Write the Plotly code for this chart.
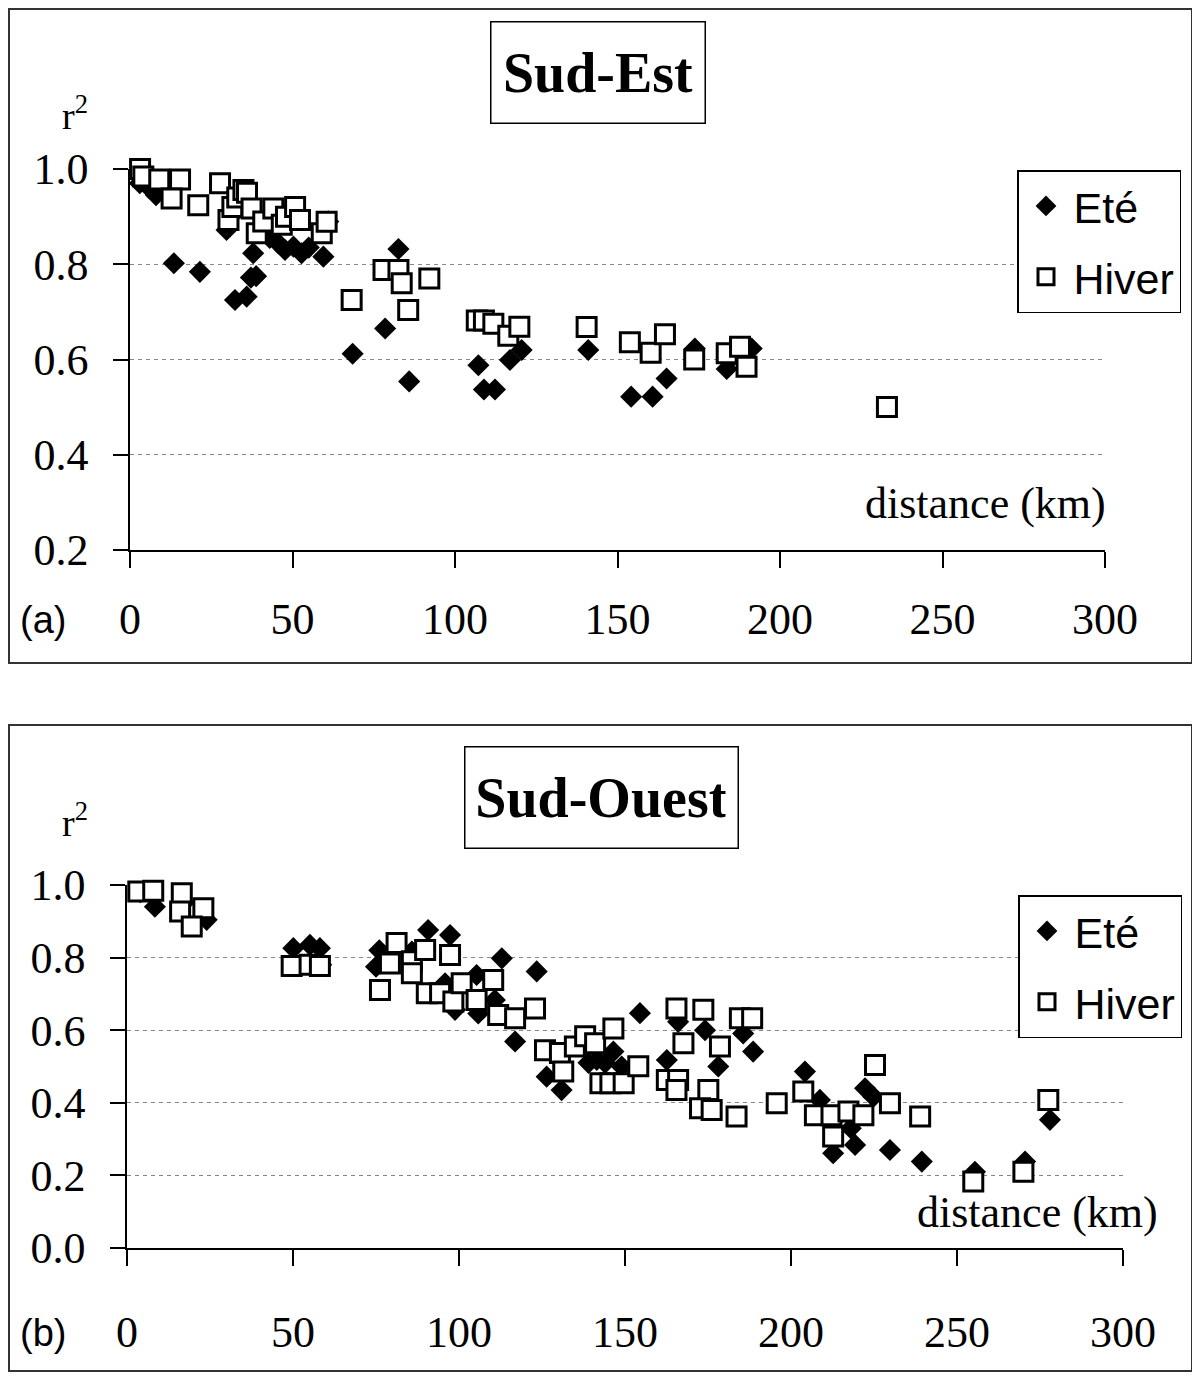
import plotly.graph_objects as go

# Sud-Est (a)
se_ete_x = [3, 6, 8, 13.5, 21.5, 29.7, 31, 32.3, 35.9, 37.2, 38.8, 37.9, 43, 45.6, 47.7,
            50.3, 52.8, 55, 59.5, 61, 68.5, 78.5, 82.6, 85.9, 107.2, 108.9, 112.3, 116.9,
            120.5, 141, 154.2, 160.8, 165.1, 173.8, 183.6, 184.5, 191.3]
se_ete_y = [0.97, 0.96, 0.945, 0.802, 0.784, 0.872, 0.9, 0.725, 0.732, 0.772, 0.775, 0.823, 0.855, 0.844, 0.83,
            0.837, 0.823, 0.835, 0.816, 0.89, 0.612, 0.665, 0.832, 0.554, 0.588, 0.537, 0.537, 0.599,
            0.62, 0.62, 0.522, 0.522, 0.56, 0.623, 0.58, 0.6, 0.623]

se_hiver_x = [3.1, 4.1, 9.0, 15.4, 12.8, 21.0, 27.7, 30.3, 31.5, 33, 34.9, 36, 37.4, 39, 41,
              44.1, 46.7, 48, 50.8, 52.3, 59, 60.5, 68.2, 78, 82.6, 83.6, 85.6, 92.1, 106.7,
              108.9, 111.8, 116.4, 119.8, 140.5, 153.8, 160.2, 164.6, 173.6, 183.6, 187.7,
              189.7, 232.9]
se_hiver_y = [1.0, 0.984, 0.978, 0.978, 0.938, 0.924, 0.97, 0.893, 0.92, 0.94, 0.956, 0.95, 0.917, 0.865, 0.89,
              0.917, 0.883, 0.9, 0.92, 0.893, 0.865, 0.889, 0.725, 0.788, 0.788, 0.76, 0.704, 0.77, 0.682,
              0.682, 0.675, 0.65, 0.669, 0.668, 0.636, 0.614, 0.653, 0.6, 0.613, 0.627,
              0.585, 0.5]

# Sud-Ouest (b)
so_ete_x = [4, 8.4, 17, 24, 50.1, 55.1, 58.1, 58.5, 76, 75, 85.8, 90.7, 97.3, 95.8, 98.8,
            105.3, 105.8, 110.8, 112.9, 116.9, 123.4, 126.4, 130.9, 139, 141.5, 144, 146.5,
            149, 154.5, 162.6, 166, 174.1, 178.1, 185.6, 188.6, 204.2, 208.7, 222.3, 224.8,
            212.7, 218, 219.3, 229.8, 239.4, 255.4, 270.5, 278]
so_ete_y = [0.98, 0.94, 0.95, 0.904, 0.826, 0.835, 0.826, 0.78, 0.82, 0.775, 0.817, 0.876, 0.862, 0.729, 0.656,
            0.752, 0.646, 0.683, 0.798, 0.569, 0.762, 0.472, 0.435, 0.51, 0.518, 0.51, 0.541,
            0.5, 0.647, 0.518, 0.623, 0.6, 0.5, 0.591, 0.541, 0.486, 0.408, 0.44, 0.417,
            0.261, 0.33, 0.284, 0.27, 0.238, 0.21, 0.238, 0.353]

so_hiver_x = [3.4, 7.9, 16.5, 16, 23, 19.5, 49.6, 55, 58.1, 76.2, 79.2, 81.2, 85.8, 85.8, 89.8,
              90.3, 94.3, 97.3, 98.3, 100.8, 105.3, 110.3, 111.8, 116.9, 122.9, 125.9, 130.4,
              131.4, 134.9, 138, 141, 146.5, 142.6, 145.6, 149.6, 154, 165.5, 173.6, 184.6,
              188.3, 167.6, 178.6, 162.6, 166, 165.5, 175.1, 172.6, 176.1, 183.6, 195.7, 203.7,
              207.2, 212.2, 217.3, 221.8, 212.7, 225.3, 229.8, 238.9, 254.9, 270, 277.5]
so_hiver_y = [0.982, 0.984, 0.977, 0.927, 0.936, 0.886, 0.777, 0.78, 0.777, 0.711, 0.784, 0.84, 0.79, 0.757, 0.821,
              0.702, 0.702, 0.807, 0.679, 0.729, 0.683, 0.738, 0.642, 0.633, 0.66, 0.545, 0.537,
              0.486, 0.555, 0.583, 0.564, 0.605, 0.454, 0.454, 0.454, 0.501, 0.66, 0.656, 0.633,
              0.633, 0.564, 0.555, 0.463, 0.463, 0.435, 0.435, 0.385, 0.38, 0.362, 0.399, 0.431,
              0.366, 0.366, 0.376, 0.366, 0.307, 0.504, 0.399, 0.362, 0.183, 0.21, 0.408]

x_ticks = [0, 50, 100, 150, 200, 250, 300]

SERIF = "Liberation Serif, Times New Roman, serif"
SANS = "Liberation Sans, Arial, sans-serif"
# page body has an 8px margin, so the figure is a bit smaller and shifted
OFF = 8
W, H = 1200 - OFF, 1378 - OFF


def px(x):
    return (x - OFF) / W


def py(y):
    return 1 - (y - OFF) / H


ete_marker = dict(symbol="diamond", size=17, color="black", line=dict(width=0))
hiver_marker = dict(symbol="square", size=19, color="white", line=dict(color="black", width=3))

fig = go.Figure()
fig.add_trace(go.Scatter(x=se_ete_x, y=se_ete_y, mode="markers", name="Eté", marker=ete_marker,
                         xaxis="x", yaxis="y", legend="legend", legendgroup="e1", cliponaxis=False))
fig.add_trace(go.Scatter(x=se_hiver_x, y=se_hiver_y, mode="markers", name="Hiver", marker=hiver_marker,
                         xaxis="x", yaxis="y", legend="legend", legendgroup="h1", cliponaxis=False))
fig.add_trace(go.Scatter(x=so_ete_x, y=so_ete_y, mode="markers", name="Eté", marker=ete_marker,
                         xaxis="x2", yaxis="y2", legend="legend2", legendgroup="e2", cliponaxis=False))
fig.add_trace(go.Scatter(x=so_hiver_x, y=so_hiver_y, mode="markers", name="Hiver", marker=hiver_marker,
                         xaxis="x2", yaxis="y2", legend="legend2", legendgroup="h2", cliponaxis=False))

xax = dict(range=[0, 300], tickvals=x_ticks, showline=True, linecolor="black", linewidth=1.5,
           ticks="outside", ticklen=16, tickwidth=1.5, tickcolor="black", showgrid=False,
           zeroline=False, tickfont=dict(family=SERIF, size=44, color="black"))
yax = dict(showline=True, linecolor="black", linewidth=1.5, ticks="outside", ticklen=15,
           tickwidth=1.5, tickcolor="black", showgrid=True, gridcolor="#888888", griddash="4px,4px",
           gridwidth=1.2, zeroline=False, tickformat=".1f",
           tickfont=dict(family=SERIF, size=44, color="black"), ticklabelstandoff=16)

legend_style = dict(bgcolor="white", bordercolor="black", borderwidth=1.5,
                    font=dict(family=SANS, size=43, color="black"), tracegroupgap=12,
                    itemwidth=45, xanchor="left", yanchor="top")

fig.update_layout(
    width=W, height=H, margin=dict(l=0, r=0, t=0, b=0, autoexpand=False),
    paper_bgcolor="white", plot_bgcolor="white", showlegend=True,
    xaxis=dict(xax, domain=[px(130), px(1105)], anchor="y", ticklabelstandoff=13),
    yaxis=dict(yax, domain=[py(550), py(169)], range=[0.2, 1.0], tickvals=[0.2, 0.4, 0.6, 0.8, 1.0], anchor="x"),
    xaxis2=dict(xax, domain=[px(127), px(1123)], anchor="y2", ticklabelstandoff=28),
    yaxis2=dict(yax, domain=[py(1248), py(885)], range=[0, 1.0], tickvals=[0, 0.2, 0.4, 0.6, 0.8, 1.0], anchor="x2"),
    legend=dict(legend_style, x=px(1017), y=py(170)),
    legend2=dict(legend_style, x=px(1018), y=py(895)),
)

# panel frames
for top, bottom in [(8, 663), (724, 1371)]:
    fig.add_shape(type="rect", xref="paper", yref="paper", x0=px(9), x1=px(1192),
                  y0=py(bottom), y1=py(top + 1), line=dict(color="#333333", width=2))

# titles in boxes
for label, cx, cy, bw in [("Sud-Est", 598, 72, 189), ("Sud-Ouest", 601, 797, 248)]:
    fig.add_annotation(text="<b>" + label + "</b>", xref="paper", yref="paper", x=px(cx), y=py(cy),
                       xanchor="center", yanchor="middle", showarrow=False, width=bw, height=76,
                       font=dict(family=SERIF, size=56, color="black"),
                       bordercolor="black", borderwidth=1.5, borderpad=12, bgcolor="white")

for cx, cy in [(75, 113), (75, 820)]:
    fig.add_annotation(text="r<sup>2</sup>", xref="paper", yref="paper", x=px(cx), y=py(cy),
                       xanchor="center", yanchor="middle", showarrow=False,
                       font=dict(family=SERIF, size=38, color="black"))

for cx, cy in [(985, 503), (1037, 1212)]:
    fig.add_annotation(text="distance (km)", xref="paper", yref="paper", x=px(cx), y=py(cy),
                       xanchor="center", yanchor="middle", showarrow=False,
                       font=dict(family=SERIF, size=44, color="black"))

for label, cx, cy in [("(a)", 43, 620), ("(b)", 43, 1333)]:
    fig.add_annotation(text=label, xref="paper", yref="paper", x=px(cx), y=py(cy),
                       xanchor="center", yanchor="middle", showarrow=False,
                       font=dict(family=SANS, size=38, color="black"))

fig.write_html("out.html")
